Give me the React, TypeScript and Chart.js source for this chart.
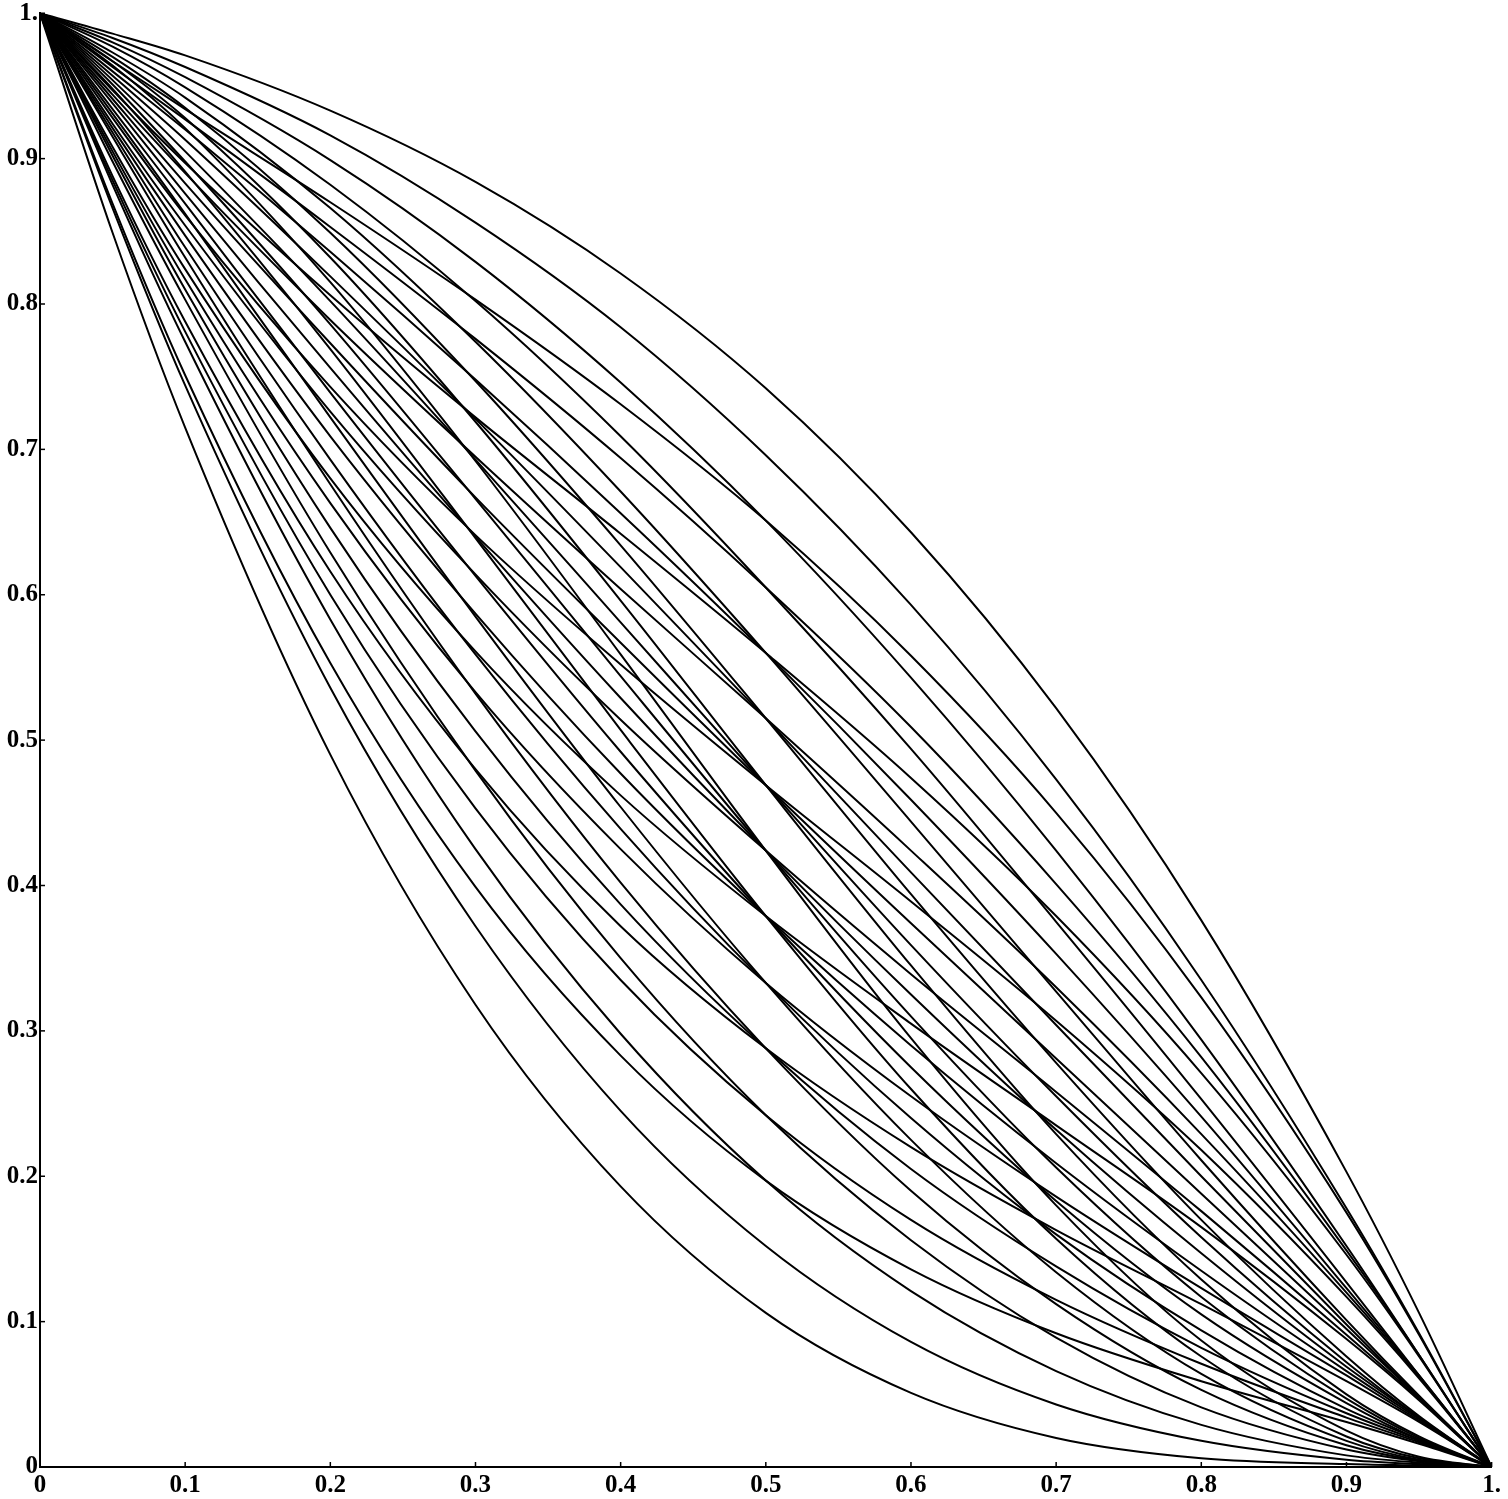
import React, { useEffect, useRef } from "react";
import { Chart, registerables } from "chart.js";

Chart.register(...registerables);

// Sample abscissae at which every curve was read
const X_VALUES = [0, 0.05, 0.1, 0.2, 0.3, 0.4, 0.5, 0.6, 0.7, 0.8, 0.9, 0.95, 1];

// Tick values / labels (same on both axes)
const TICK_VALUES = [0, 0.1, 0.2, 0.3, 0.4, 0.5, 0.6, 0.7, 0.8, 0.9, 1];
const TICK_LABELS = ["0", "0.1", "0.2", "0.3", "0.4", "0.5", "0.6", "0.7", "0.8", "0.9", "1."];

// Curves grouped by their starting slope at (0,1) (steepest first)
const bundle0 = [
  [1, 0.849, 0.715, 0.49, 0.318, 0.193, 0.106, 0.051, 0.02, 0.006, 0.002, 0.001, 0],
];
const bundle1 = [
  [1, 0.866, 0.744, 0.536, 0.372, 0.245, 0.152, 0.086, 0.043, 0.018, 0.005, 0.002, 0],
  [1, 0.869, 0.751, 0.553, 0.399, 0.283, 0.197, 0.136, 0.092, 0.059, 0.031, 0.016, 0],
];
const bundle2 = [
  [1, 0.882, 0.774, 0.583, 0.425, 0.298, 0.197, 0.121, 0.066, 0.029, 0.008, 0.003, 0],
  [1, 0.885, 0.781, 0.6, 0.453, 0.335, 0.242, 0.17, 0.115, 0.071, 0.034, 0.017, 0],
  [1, 0.888, 0.788, 0.616, 0.48, 0.372, 0.288, 0.22, 0.163, 0.112, 0.059, 0.031, 0],
];
const bundle3 = [
  [1, 0.898, 0.803, 0.629, 0.479, 0.35, 0.242, 0.156, 0.089, 0.041, 0.012, 0.004, 0],
  [1, 0.902, 0.81, 0.646, 0.506, 0.387, 0.288, 0.205, 0.138, 0.082, 0.037, 0.018, 0],
  [1, 0.905, 0.817, 0.663, 0.533, 0.425, 0.333, 0.255, 0.186, 0.123, 0.063, 0.032, 0],
  [1, 0.908, 0.824, 0.68, 0.561, 0.462, 0.379, 0.305, 0.235, 0.165, 0.088, 0.046, 0],
];
const bundle4 = [
  [1, 0.915, 0.832, 0.676, 0.532, 0.402, 0.288, 0.19, 0.112, 0.053, 0.015, 0.0045, 0],
  [1, 0.918, 0.839, 0.693, 0.559, 0.439, 0.333, 0.24, 0.16, 0.094, 0.04, 0.019, 0],
  [1, 0.921, 0.847, 0.709, 0.587, 0.477, 0.379, 0.29, 0.209, 0.135, 0.066, 0.033, 0],
  [1, 0.924, 0.854, 0.726, 0.614, 0.514, 0.424, 0.339, 0.258, 0.176, 0.091, 0.047, 0],
  [1, 0.928, 0.861, 0.743, 0.641, 0.552, 0.469, 0.389, 0.307, 0.218, 0.117, 0.061, 0],
];
const bundle5 = [
  [1, 0.931, 0.862, 0.722, 0.585, 0.454, 0.333, 0.225, 0.134, 0.064, 0.018, 0.005, 0],
  [1, 0.934, 0.869, 0.739, 0.613, 0.492, 0.379, 0.275, 0.183, 0.105, 0.044, 0.019, 0],
  [1, 0.938, 0.876, 0.756, 0.64, 0.529, 0.424, 0.325, 0.232, 0.147, 0.069, 0.034, 0],
  [1, 0.941, 0.883, 0.773, 0.667, 0.567, 0.469, 0.374, 0.281, 0.188, 0.095, 0.048, 0],
  [1, 0.944, 0.89, 0.789, 0.695, 0.604, 0.515, 0.424, 0.33, 0.229, 0.12, 0.062, 0],
  [1, 0.947, 0.897, 0.806, 0.722, 0.642, 0.56, 0.474, 0.379, 0.271, 0.146, 0.076, 0],
];
const bundle6 = [
  [1, 0.948, 0.891, 0.769, 0.639, 0.507, 0.379, 0.26, 0.157, 0.076, 0.021, 0.006, 0],
  [1, 0.951, 0.898, 0.786, 0.666, 0.544, 0.424, 0.31, 0.206, 0.117, 0.047, 0.02, 0],
  [1, 0.954, 0.905, 0.802, 0.693, 0.581, 0.469, 0.359, 0.255, 0.158, 0.072, 0.034, 0],
  [1, 0.957, 0.913, 0.819, 0.721, 0.619, 0.515, 0.409, 0.304, 0.2, 0.098, 0.048, 0],
  [1, 0.96, 0.92, 0.836, 0.748, 0.656, 0.56, 0.459, 0.353, 0.241, 0.123, 0.063, 0],
  [1, 0.963, 0.927, 0.853, 0.776, 0.694, 0.605, 0.509, 0.401, 0.282, 0.149, 0.077, 0],
  [1, 0.967, 0.934, 0.87, 0.803, 0.731, 0.651, 0.558, 0.45, 0.323, 0.175, 0.091, 0],
];
const bundle7 = [
  [1, 0.964, 0.921, 0.815, 0.692, 0.559, 0.424, 0.295, 0.18, 0.087, 0.025, 0.007, 0],
  [1, 0.967, 0.928, 0.832, 0.719, 0.596, 0.469, 0.345, 0.229, 0.129, 0.05, 0.021, 0],
  [1, 0.97, 0.935, 0.849, 0.747, 0.634, 0.515, 0.394, 0.278, 0.17, 0.076, 0.035, 0],
  [1, 0.973, 0.942, 0.866, 0.774, 0.671, 0.56, 0.444, 0.327, 0.211, 0.101, 0.049, 0],
  [1, 0.977, 0.949, 0.882, 0.802, 0.709, 0.605, 0.494, 0.375, 0.253, 0.127, 0.063, 0],
  [1, 0.98, 0.956, 0.899, 0.829, 0.746, 0.651, 0.543, 0.424, 0.294, 0.152, 0.077, 0],
  [1, 0.983, 0.963, 0.916, 0.856, 0.784, 0.696, 0.593, 0.473, 0.335, 0.178, 0.092, 0],
  [1, 0.986, 0.971, 0.933, 0.884, 0.821, 0.742, 0.643, 0.522, 0.376, 0.203, 0.106, 0],
];

const BUNDLES = [bundle0, bundle1, bundle2, bundle3, bundle4, bundle5, bundle6, bundle7];

const FONT = { family: "'Liberation Serif', 'Times New Roman', serif", weight: "bold" as const, size: 25, lineHeight: 0.9 };

function tickLabel(value: number): string {
  const k = TICK_VALUES.findIndex((t) => Math.abs(t - value) < 1e-6);
  return k >= 0 ? TICK_LABELS[k] : "";
}

export default function App() {
  const ref = useRef<HTMLCanvasElement | null>(null);

  useEffect(() => {
    if (!ref.current) return;
    const datasets = BUNDLES.flat().map((ys) => ({
      data: ys.map((y, k) => ({ x: X_VALUES[k], y })),
      borderColor: "#000",
      borderWidth: 2,
      pointRadius: 0,
      fill: false,
      cubicInterpolationMode: "monotone" as const,
    }));

    const innerTicks = {
      id: "innerTicks",
      afterDatasetsDraw(chart: any) {
        const { ctx, chartArea, scales } = chart;
        ctx.save();
        ctx.strokeStyle = "#000";
        ctx.lineWidth = 1.5;
        TICK_VALUES.forEach((v) => {
          if (v === 0) return;
          const px = scales.x.getPixelForValue(v);
          ctx.beginPath();
          ctx.moveTo(px, chartArea.bottom);
          ctx.lineTo(px, chartArea.bottom - 5);
          ctx.stroke();
          const py = scales.y.getPixelForValue(v);
          ctx.beginPath();
          ctx.moveTo(chartArea.left, py);
          ctx.lineTo(chartArea.left + 5, py);
          ctx.stroke();
        });
        ctx.restore();
      },
    };

    const chart = new Chart(ref.current, {
      type: "line",
      data: { datasets },
      options: {
        responsive: false,
        maintainAspectRatio: false,
        animation: false,
        devicePixelRatio: 1,
        layout: { padding: { top: 12.6, right: 14, left: 0, bottom: 0 } },
        plugins: { legend: { display: false }, tooltip: { enabled: false } },
        scales: {
          x: {
            type: "linear",
            min: 0,
            max: 1,
            position: "bottom",
            grid: { display: true, drawOnChartArea: false, drawTicks: false },
            border: { display: true, color: "#000", width: 2 },
            ticks: {
              stepSize: 0.1,
              autoSkip: false,
              maxRotation: 0,
              padding: 7,
              color: "#000",
              font: FONT,
              callback: (v: any) => tickLabel(Number(v)),
            },
            afterFit: (scale: any) => {
              scale.height = 32;
            },
          },
          y: {
            type: "linear",
            min: 0,
            max: 1,
            grid: { display: true, drawOnChartArea: false, drawTicks: false },
            border: { display: true, color: "#000", width: 2 },
            ticks: {
              stepSize: 0.1,
              autoSkip: false,
              padding: 2,
              color: "#000",
              font: FONT,
              callback: (v: any) => tickLabel(Number(v)),
            },
            afterFit: (scale: any) => {
              scale.width = 40;
            },
          },
        },
      },
      plugins: [innerTicks],
    } as any);

    return () => chart.destroy();
  }, []);

  return (
    <div style={{ position: "absolute", left: 0, top: 0, width: 1508, height: 1499, background: "#fff" }}>
      <canvas ref={ref} width={1508} height={1499} style={{ width: 1508, height: 1499, display: "block" }} />
    </div>
  );
}
